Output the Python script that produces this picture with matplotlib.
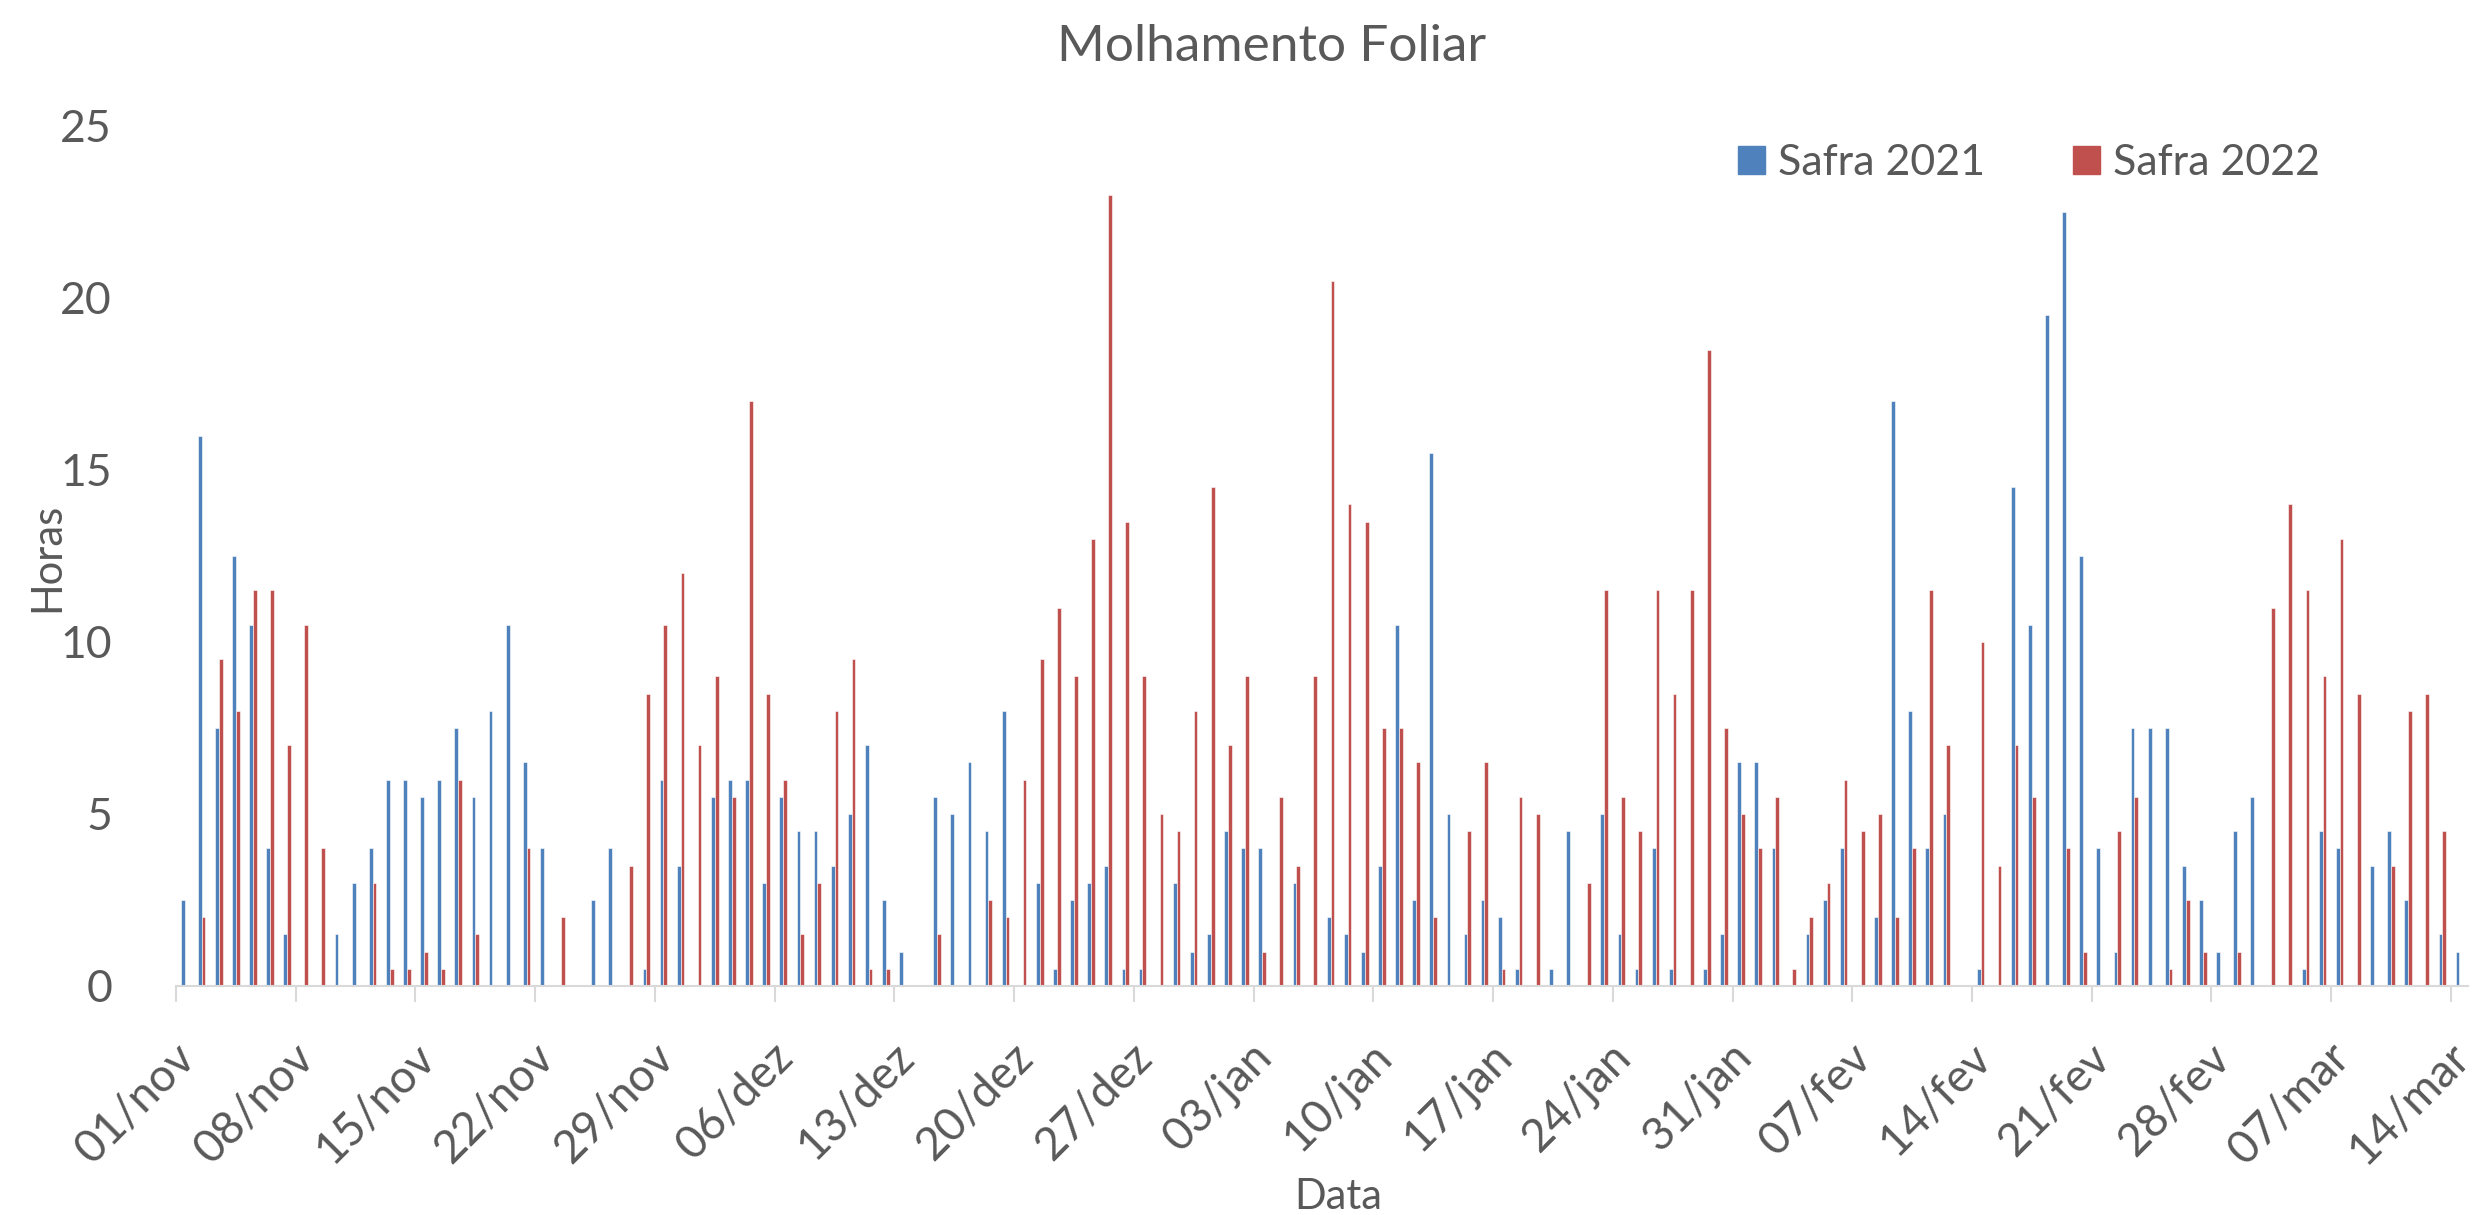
import numpy as np
import matplotlib
matplotlib.use('Agg')
import matplotlib.pyplot as plt
import matplotlib.transforms as mtransforms
from matplotlib.patches import Patch

plt.rcParams['font.family'] = ['Lato', 'DejaVu Sans']

# ── Data: one value per day, 01/nov .. 14/mar (134 days) ────────────────────
safra_2021 = [
    2.5, 16, 7.5, 12.5, 10.5, 4, 1.5, 0, 0, 1.5,
    3, 4, 6, 6, 5.5, 6, 7.5, 5.5, 8, 10.5,
    6.5, 4, 0, 0, 2.5, 4, 0, 0.5, 6, 3.5,
    0, 5.5, 6, 6, 3, 5.5, 4.5, 4.5, 3.5, 5,
    7, 2.5, 1, 0, 5.5, 5, 6.5, 4.5, 8, 0,
    3, 0.5, 2.5, 3, 3.5, 0.5, 0.5, 0, 3, 1,
    1.5, 4.5, 4, 4, 0, 3, 0, 2, 1.5, 1,
    3.5, 10.5, 2.5, 15.5, 5, 1.5, 2.5, 2, 0.5, 0,
    0.5, 4.5, 0, 5, 1.5, 0.5, 4, 0.5, 0, 0.5,
    1.5, 6.5, 6.5, 4, 0, 1.5, 2.5, 4, 0, 2,
    17, 8, 4, 5, 0, 0.5, 0, 14.5, 10.5, 19.5,
    22.5, 12.5, 4, 1, 7.5, 7.5, 7.5, 3.5, 2.5, 1,
    4.5, 5.5, 0, 0, 0.5, 4.5, 4, 0, 3.5, 4.5,
    2.5, 0, 1.5, 1,
]
safra_2022 = [
    0, 2, 9.5, 8, 11.5, 11.5, 7, 10.5, 4, 0,
    0, 3, 0.5, 0.5, 1, 0.5, 6, 1.5, 0, 0,
    4, 0, 2, 0, 0, 0, 3.5, 8.5, 10.5, 12,
    7, 9, 5.5, 17, 8.5, 6, 1.5, 3, 8, 9.5,
    0.5, 0.5, 0, 0, 1.5, 0, 0, 2.5, 2, 6,
    9.5, 11, 9, 13, 23, 13.5, 9, 5, 4.5, 8,
    14.5, 7, 9, 1, 5.5, 3.5, 9, 20.5, 14, 13.5,
    7.5, 7.5, 6.5, 2, 0, 4.5, 6.5, 0.5, 5.5, 5,
    0, 0, 3, 11.5, 5.5, 4.5, 11.5, 8.5, 11.5, 18.5,
    7.5, 5, 4, 5.5, 0.5, 2, 3, 6, 4.5, 5,
    2, 4, 11.5, 7, 0, 10, 3.5, 7, 5.5, 0,
    4, 1, 0, 4.5, 5.5, 0, 0.5, 2.5, 1, 0,
    1, 0, 11, 14, 11.5, 9, 13, 8.5, 0, 3.5,
    8, 8.5, 4.5, 0,
]
tick_labels = ['01/nov', '08/nov', '15/nov', '22/nov', '29/nov', '06/dez',
               '13/dez', '20/dez', '27/dez', '03/jan', '10/jan', '17/jan',
               '24/jan', '31/jan', '07/fev', '14/fev', '21/fev', '28/fev',
               '07/mar', '14/mar']
series_names = ['Safra 2021', 'Safra 2022']

BLUE = '#4F81BD'
RED = '#C0504D'
TXT = '#595959'
AXC = '#D9D9D9'

x = np.arange(len(safra_2021))
w = 0.22

fig = plt.figure(figsize=(24.75, 12.15), dpi=100)
ax = fig.add_axes([176 / 2475, 1 - 986 / 1215, (2468 - 176) / 2475, (986 - 126) / 1215])

ax.bar(x - w / 2, safra_2021, w, color=BLUE, edgecolor='white', linewidth=0.4)
ax.bar(x + w / 2, safra_2022, w, color=RED, edgecolor='white', linewidth=0.4)

ax.set_xlim(-0.5, len(x) - 0.5)
ax.set_ylim(0, 25)
ax.set_yticks([0, 5, 10, 15, 20, 25])

for s in ['top', 'right', 'left']:
    ax.spines[s].set_visible(False)
ax.spines['bottom'].set_color(AXC)
ax.spines['bottom'].set_linewidth(1.5)

ax.tick_params(axis='y', length=0, pad=46, labelsize=32, labelcolor=TXT)
ax.tick_params(axis='x', direction='out', length=11.5, width=1.5, color=AXC,
               pad=24, labelsize=33, labelcolor=TXT)

ax.set_xticks(np.arange(0, len(x), 7) - 0.5)
ax.set_xticklabels(tick_labels, rotation=45, ha='right', va='top',
                   rotation_mode='anchor')
# nudge the rotated labels so their ends sit just right of the ticks
shift = mtransforms.ScaledTranslation(-0.03, 0, fig.dpi_scale_trans)
for lab in ax.get_xticklabels():
    lab.set_transform(lab.get_transform() + shift)

fig.text(1272 / 2475, 1 - 47 / 1215, 'Molhamento Foliar', ha='center',
         va='center', fontsize=37, color=TXT)
fig.text(47 / 2475, 1 - 557 / 1215, 'Horas', rotation=90, ha='center',
         va='center', fontsize=30, color=TXT)
fig.text(1338 / 2475, 1 - 1197 / 1215, 'Data', ha='center', va='center',
         fontsize=30, color=TXT)

handles = [Patch(color=BLUE), Patch(color=RED)]
leg = ax.legend(handles, series_names, loc='center left', ncol=2,
                bbox_to_anchor=(1738 / 2475, 1 - 163 / 1215),
                bbox_transform=fig.transFigure, frameon=False, fontsize=31,
                handlelength=0.63, handleheight=0.63, handletextpad=0.3,
                columnspacing=2.05, borderpad=0, borderaxespad=0)
for t in leg.get_texts():
    t.set_color(TXT)

fig.savefig('out.png', dpi=100)
